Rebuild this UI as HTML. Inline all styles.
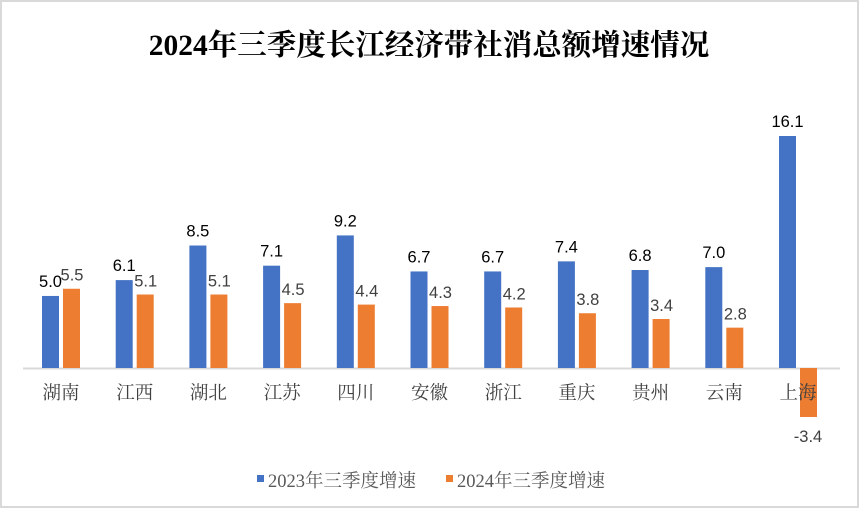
<!DOCTYPE html>
<html><head><meta charset="utf-8"><style>
body{margin:0;background:#fff}
svg{display:block}
</style></head><body>
<svg width="859" height="508" xmlns="http://www.w3.org/2000/svg">
<rect x="1" y="1" width="857" height="506" fill="#fff" stroke="#d9d9d9" stroke-width="2"/>
<text x="429" y="55" text-anchor="middle" font-family="'Liberation Serif','Noto Serif CJK SC',serif" font-weight="bold" font-size="29.5" fill="#000">2024年三季度长江经济带社消总额增速情况</text>
<line x1="23" y1="368.5" x2="840" y2="368.5" stroke="#d9d9d9" stroke-width="2"/>
<rect x="257" y="475" width="7" height="7" fill="#4472c4"/>
<text x="268" y="487" font-family="'Liberation Serif','Noto Serif CJK SC',serif" font-size="18.5" fill="#595959">2023年三季度增速</text>
<rect x="446" y="475" width="7" height="7" fill="#ed7d31"/>
<text x="457" y="487" font-family="'Liberation Serif','Noto Serif CJK SC',serif" font-size="18.5" fill="#595959">2024年三季度增速</text>
</svg>
<script>
const d=[["湖南",5.0,5.5],["江西",6.1,5.1],["湖北",8.5,5.1],["江苏",7.1,4.5],["四川",9.2,4.4],["安徽",6.7,4.3],["浙江",6.7,4.2],["重庆",7.4,3.8],["贵州",6.8,3.4],["云南",7.0,2.8],["上海",16.1,-3.4]];
const base=368,k=14.41,ns="http://www.w3.org/2000/svg",svg=document.querySelector("svg");
function el(t,a,txt){const e=document.createElementNS(ns,t);for(const i in a)e.setAttribute(i,a[i]);if(txt!=null)e.textContent=txt;svg.appendChild(e);return e;}
d.forEach((r,i)=>{const x=42+i*73.7;
const hb=r[1]*k;el("rect",{x:x,y:base-hb,width:17,height:hb,fill:"#4472c4"});
const ho=r[2]*k;if(ho>=0)el("rect",{x:x+21,y:base-ho,width:17,height:ho,fill:"#ed7d31"});else el("rect",{x:x+21,y:base,width:17,height:-ho,fill:"#ed7d31"});
el("text",{x:x+8.5,y:base-hb-9,"text-anchor":"middle","font-family":"'Liberation Sans',sans-serif","font-size":"16.5",fill:"#000"},r[1].toFixed(1));
if(ho>=0)el("text",{x:x+30,y:base-ho-8,"text-anchor":"middle","font-family":"'Liberation Sans',sans-serif","font-size":"16.5",fill:"#404040"},r[2].toFixed(1));
else el("text",{x:x+29,y:base-ho+25,"text-anchor":"middle","font-family":"'Liberation Sans',sans-serif","font-size":"16.5",fill:"#404040"},r[2].toFixed(1));
el("text",{x:x+19,y:399,"text-anchor":"middle","font-family":"'Liberation Serif','Noto Serif CJK SC',serif","font-size":"18.5",fill:"#404040"},r[0]);
});
</script>
</body></html>
